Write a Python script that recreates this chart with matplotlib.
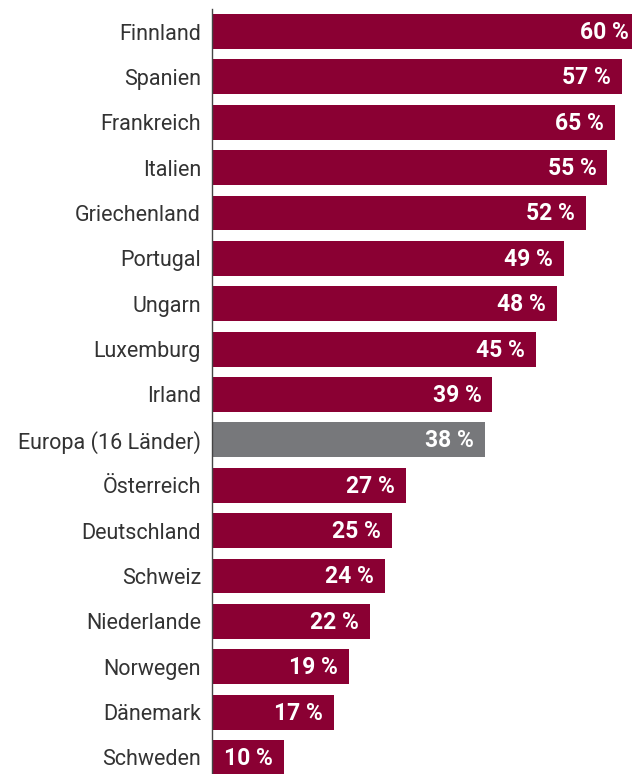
import matplotlib
matplotlib.use("Agg")
import matplotlib.pyplot as plt

countries = ["Finnland", "Spanien", "Frankreich", "Italien", "Griechenland", "Portugal",
             "Ungarn", "Luxemburg", "Irland", "Europa (16 Länder)", "Österreich",
             "Deutschland", "Schweiz", "Niederlande", "Norwegen", "Dänemark", "Schweden"]
# bar lengths as drawn in the picture
bar_values = [59.5, 57, 56, 55, 52, 49, 48, 45, 39, 38, 27, 25, 24, 22, 19, 17, 10]
# value labels as printed
value_labels = ["60 %", "57 %", "65 %", "55 %", "52 %", "49 %", "48 %", "45 %", "39 %",
                "38 %", "27 %", "25 %", "24 %", "22 %", "19 %", "17 %", "10 %"]
highlight = "Europa (16 Länder)"

RED = "#8A0033"
GREY = "#77787B"

plt.rcParams['font.family'] = ['Roboto', 'DejaVu Sans']

W, H = 632, 774
fig = plt.figure(figsize=(W / 100, H / 100), dpi=100)
ax = fig.add_axes([212 / W, 0, 420 / W, 765 / H])

ypos = list(range(len(countries)))
colors = [GREY if c == highlight else RED for c in countries]
ax.barh(ypos, bar_values, height=0.77, color=colors, linewidth=0)

ax.set_xlim(0, 420 / 7.19)
ax.set_ylim(16.364, -0.496)

for y, v, lab in zip(ypos, bar_values, value_labels):
    ax.annotate(lab, xy=(v, y), xytext=(-11, -1), textcoords="offset pixels",
                ha="right", va="center", color="white", fontsize=16.5,
                fontweight="bold", annotation_clip=False)

ax.set_yticks(ypos)
ax.set_yticklabels(countries, fontsize=15.5, color="#333333")
for t in ax.get_yticklabels():
    t.set_y(t.get_position()[1])
ax.tick_params(axis="y", length=0, pad=8)
ax.set_xticks([])
for s in ["top", "right", "bottom"]:
    ax.spines[s].set_visible(False)
ax.spines["left"].set_color("#444444")
ax.spines["left"].set_linewidth(1.0)

fig.savefig("out.png", dpi=100)
